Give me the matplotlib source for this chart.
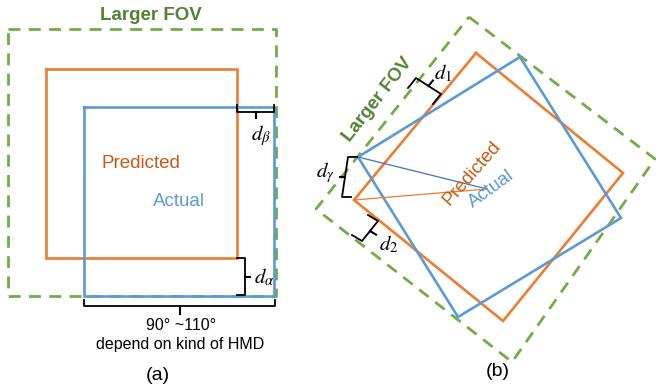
import numpy as np
import matplotlib
matplotlib.use("Agg")
import matplotlib.pyplot as plt

plt.rcParams['font.family'] = ['Liberation Sans', 'DejaVu Sans']
plt.rcParams['mathtext.fontset'] = 'stix'

# ---- geometry (pixel coordinates, y down) ----
# panel (a)
fov_a = [(8, 29), (276, 29), (276, 296), (8, 296)]
pred_a = [(46, 69), (237, 69), (237, 258), (46, 258)]
act_a = [(84, 107), (274, 107), (274, 296), (84, 296)]
# panel (b)
fov_b = [(469, 17), (655, 159), (512, 362), (316, 209)]
pred_b = [(476, 53), (623, 173), (503, 321), (354, 200)]
act_b = [(520, 57), (621, 218), (458, 317), (358, 157)]
center_b = (487, 189)

# braces: (p1, p2, offset vector, tick length)
braces = [
    ((237, 105), (274, 105), (0, 7), 6),      # d_beta
    ((237, 258), (237, 295), (8, 0), 5),      # d_alpha
    ((84, 300), (275, 300), (0, 6), 8),       # bottom span
    ((357, 157), (351, 197), (-9, 0), 5),     # d_gamma
    ((408, 88), (433, 104), (8, -10), 7),     # d_1
    ((352, 235), (368, 215), (10, 6), 7),     # d_2
]

labels_math = [
    (r'$d_\beta$', 261, 136),
    (r'$d_\alpha$', 264, 277),
    (r'$d_\gamma$', 325, 173),
    (r'$d_1$', 443, 73),
    (r'$d_2$', 389, 244),
]

ORANGE = '#ED7D31'
BLUE = '#5B9BD5'
GREEN = '#70AD47'
DKGREEN = '#548235'
DKORANGE = '#C55A11'

fig = plt.figure(figsize=(6.56, 3.88), dpi=100)
ax = fig.add_axes([0, 0, 1, 1])
ax.set_xlim(0, 656)
ax.set_ylim(388, 0)
ax.axis('off')

def poly(pts, **kw):
    p = list(pts) + [pts[0]]
    xs, ys = zip(*p)
    ax.plot(xs, ys, solid_joinstyle='miter', **kw)

dash = dict(color=GREEN, lw=2.0, linestyle=(0, (4.3, 3.0)))
poly(fov_a, **dash)
poly(pred_a, color=ORANGE, lw=1.9)
poly(act_a, color=BLUE, lw=1.9)

poly(fov_b, **dash)
poly(pred_b, color=ORANGE, lw=1.9)
poly(act_b, color=BLUE, lw=1.9)
ax.plot([act_b[3][0], center_b[0]], [act_b[3][1], center_b[1]], color='#4472C4', lw=0.9)
ax.plot([pred_b[3][0], center_b[0]], [pred_b[3][1], center_b[1]], color=ORANGE, lw=0.9)

for p1, p2, off, t in braces:
    p1 = np.array(p1, float); p2 = np.array(p2, float); off = np.array(off, float)
    n = off / np.linalg.norm(off)
    q1 = p1 + off; q2 = p2 + off
    m = (q1 + q2) / 2
    ax.plot([p1[0], q1[0], q2[0], p2[0]], [p1[1], q1[1], q2[1], p2[1]], color='black', lw=1.3)
    mt = m + n * t
    ax.plot([m[0], mt[0]], [m[1], mt[1]], color='black', lw=1.5)

for s, x, y in labels_math:
    ax.text(x, y, s, fontsize=15, ha='center', va='center')

ax.text(151, 15, 'Larger FOV', color=DKGREEN, fontsize=13.5, fontweight='bold', ha='center', va='center')
ax.text(141, 164, 'Predicted', color=DKORANGE, fontsize=13.5, ha='center', va='center')
ax.text(179, 202, 'Actual', color=BLUE, fontsize=13.5, ha='center', va='center')
ax.text(181, 325, '90° ~110°', fontsize=11.5, ha='center', va='center')
ax.text(180, 345, 'depend on kind of HMD', fontsize=11.5, ha='center', va='center')
ax.text(158, 375, '(a)', fontsize=14, ha='center', va='center')

ax.text(378, 100, 'Larger FOV', color=DKGREEN, fontsize=13.5, fontweight='bold', ha='center', va='center', rotation=52, rotation_mode='anchor')
ax.text(472, 173, 'Predicted', color=DKORANGE, fontsize=13.5, ha='center', va='center', rotation=49, rotation_mode='anchor')
ax.text(491, 189, 'Actual', color=BLUE, fontsize=13.5, ha='center', va='center', rotation=36, rotation_mode='anchor')
ax.text(498, 372, '(b)', fontsize=14, ha='center', va='center')

fig.savefig('out.png', dpi=100)
